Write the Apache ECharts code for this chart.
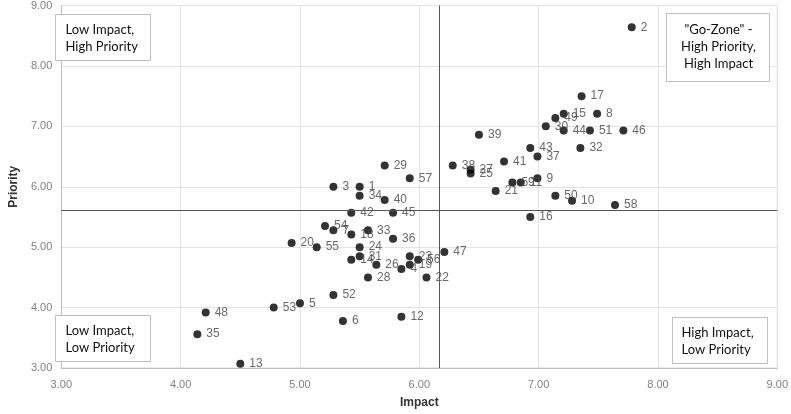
<!DOCTYPE html>
<html>
<head>
<meta charset="utf-8">
<script src="https://cdn.jsdelivr.net/npm/echarts@6/dist/echarts.min.js"></script>
<style>
html,body{margin:0;padding:0;background:#fff;}
#chart{width:791px;height:414px;}
</style>
</head>
<body>
<div id="chart"></div>
<script>
const ids = [1,2,3,4,5,6,7,8,9,10,11,12,13,14,15,16,17,18,19,20,21,22,23,24,25,26,27,28,29,30,31,32,33,34,35,36,37,38,39,40,41,42,43,44,45,46,47,48,49,50,51,52,53,54,55,56,57,58,59];
const impact = [5.50,7.78,5.28,5.85,5.00,5.36,5.28,7.49,6.99,7.28,6.85,5.85,4.50,5.43,7.21,6.93,7.36,5.43,5.92,4.93,6.64,6.06,5.92,5.50,6.43,5.64,6.43,5.57,5.71,7.06,5.50,7.35,5.57,5.50,4.14,5.78,6.99,6.28,6.50,5.71,6.71,5.43,6.93,7.21,5.78,7.71,6.21,4.21,7.14,7.14,7.43,5.28,4.78,5.21,5.14,5.99,5.92,7.64,6.78];
const priority = [6.00,8.64,6.00,4.64,4.07,3.78,5.28,7.21,6.14,5.77,6.07,3.85,3.07,4.79,7.21,5.50,7.50,5.21,4.71,5.07,5.93,4.50,4.85,5.00,6.22,4.71,6.28,4.50,6.35,7.00,4.85,6.64,5.28,5.85,3.56,5.14,6.50,6.35,6.86,5.78,6.42,5.57,6.64,6.93,5.57,6.93,4.92,3.92,7.14,5.85,6.93,4.21,4.00,5.35,5.00,4.79,6.14,5.70,6.07];
const impactMean = 6.17;
const priorityMean = 5.61;
const axisTicks = [3,4,5,6,7,8,9];
const quadrantLabels = {
  tl: 'Low Impact,\nHigh Priority',
  tr: '"Go-Zone" -\nHigh Priority,\nHigh Impact',
  bl: 'Low Impact,\nLow Priority',
  br: 'High Impact,\nLow Priority'
};

const points = ids.map((id, i) => [impact[i], priority[i], id]);

const chart = echarts.init(document.getElementById('chart'));
const tickFmt = v => v.toFixed(2);
const boxText = (txt, align) => ({
  type: 'text',
  style: {
    text: txt, fill: '#111', font: '13px Lato, "Open Sans", sans-serif',
    lineHeight: 17, align: align
  }
});
chart.setOption({
  animation: false,
  grid: {left: 50, right: 12, top: 5, bottom: 41, show: true, borderColor: '#d9d9d9', borderWidth: 1},
  xAxis: {
    type: 'value', min: axisTicks[0], max: axisTicks[axisTicks.length-1], interval: 1,
    name: 'Impact', nameLocation: 'middle', nameGap: 29,
    nameTextStyle: {fontWeight: 'bold', fontSize: 12, color: '#333', fontFamily: 'Liberation Sans, Arial'},
    axisLine: {lineStyle: {color: '#bfbfbf'}},
    axisTick: {show: false},
    axisLabel: {formatter: tickFmt, color: '#808080', fontSize: 11, margin: 11, fontFamily: 'Liberation Sans, Arial'},
    splitLine: {lineStyle: {color: '#e3e3e3'}}
  },
  yAxis: {
    type: 'value', min: axisTicks[0], max: axisTicks[axisTicks.length-1], interval: 1,
    name: 'Priority', nameLocation: 'middle', nameGap: 40,
    nameTextStyle: {fontWeight: 'bold', fontSize: 12, color: '#333', fontFamily: 'Liberation Sans, Arial'},
    axisLine: {show: true, lineStyle: {color: '#bfbfbf'}},
    axisTick: {show: false},
    axisLabel: {formatter: tickFmt, color: '#808080', fontSize: 11, margin: 9, fontFamily: 'Liberation Sans, Arial'},
    splitLine: {lineStyle: {color: '#e3e3e3'}}
  },
  series: [{
    type: 'scatter',
    data: points,
    symbolSize: 8,
    itemStyle: {color: '#000'},
    label: {
      show: true, position: 'right', distance: 5,
      formatter: p => p.value[2],
      color: '#444', fontSize: 12, fontFamily: 'Liberation Sans, Arial'
    },
    markLine: {
      silent: true, symbol: 'none', label: {show: false},
      lineStyle: {color: '#555', width: 1, type: 'solid'},
      data: [{xAxis: impactMean}, {yAxis: priorityMean}]
    },
    z: 3
  }],
  graphic: [
    {type: 'group', left: 55, top: 14, z: 100, children: [
      {type: 'rect', z: 100, shape: {x: 0, y: 0, width: 95, height: 46}, style: {fill: '#fff', stroke: '#bfbfbf', lineWidth: 1}},
      Object.assign(boxText(quadrantLabels.tl, 'left'), {x: 10, y: 7, z: 101})
    ]},
    {type: 'group', left: 666, top: 13, z: 100, children: [
      {type: 'rect', z: 100, shape: {x: 0, y: 0, width: 103, height: 68}, style: {fill: '#fff', stroke: '#bfbfbf', lineWidth: 1}},
      Object.assign(boxText(quadrantLabels.tr, 'center'), {x: 52, y: 8, z: 101})
    ]},
    {type: 'group', left: 55, top: 315, z: 100, children: [
      {type: 'rect', z: 100, shape: {x: 0, y: 0, width: 95, height: 46}, style: {fill: '#fff', stroke: '#bfbfbf', lineWidth: 1}},
      Object.assign(boxText(quadrantLabels.bl, 'left'), {x: 10, y: 7, z: 101})
    ]},
    {type: 'group', left: 672, top: 317, z: 100, children: [
      {type: 'rect', z: 100, shape: {x: 0, y: 0, width: 95, height: 46}, style: {fill: '#fff', stroke: '#bfbfbf', lineWidth: 1}},
      Object.assign(boxText(quadrantLabels.br, 'left'), {x: 9, y: 7, z: 101})
    ]}
  ]
});
</script>
</body>
</html>
